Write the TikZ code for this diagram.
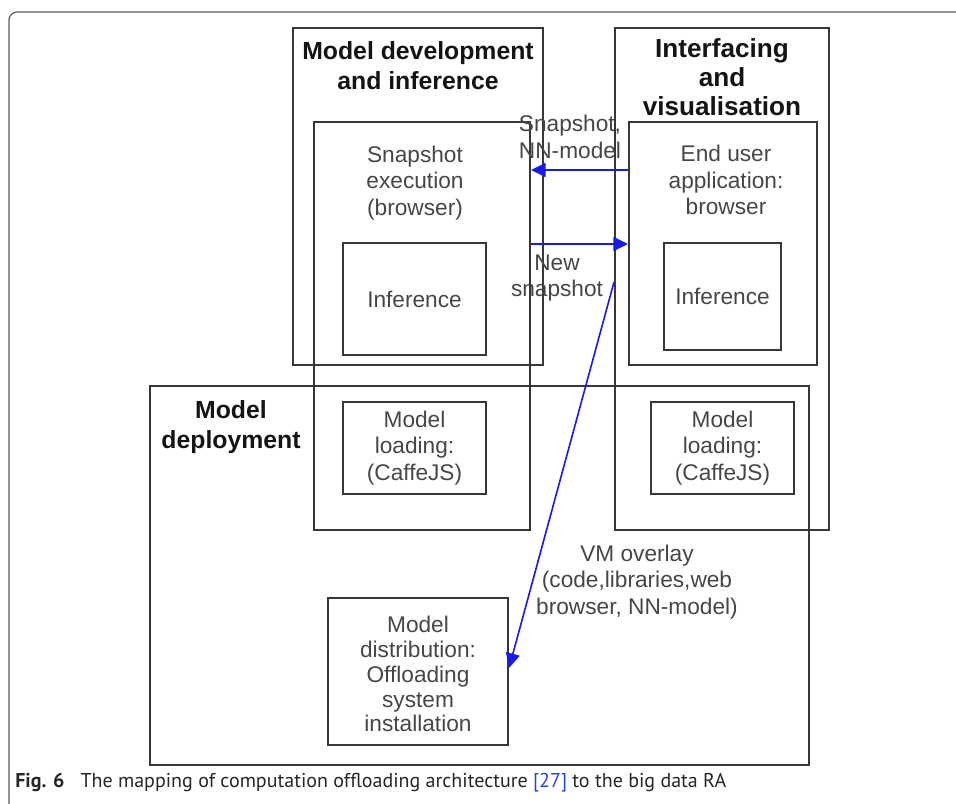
\documentclass[tikz,border=0pt]{standalone}
\usepackage{fontspec}
\setmainfont{Liberation Sans}
\newfontfamily\capfont{PT Sans}
\usetikzlibrary{arrows.meta}

\definecolor{boxline}{RGB}{55,55,55}
\definecolor{txtgray}{RGB}{70,70,70}
\definecolor{titleblack}{RGB}{20,20,20}
\definecolor{flowblue}{RGB}{25,25,235}
\definecolor{refblue}{RGB}{40,70,200}
\definecolor{framegray}{RGB}{90,90,90}

\begin{document}
\begin{tikzpicture}[x=0.75pt,y=-0.75pt,
  box/.style={draw=boxline, line width=1.5pt, rectangle, inner sep=0pt},
  bodytext/.style={font=\fontsize{17}{19.8}\selectfont, text=txtgray, align=center},
  titletext/.style={font=\fontsize{18.6}{22.5}\selectfont\bfseries, text=titleblack, align=center},
  flow/.style={draw=flowblue, line width=1.2pt, -{Triangle[length=11pt,width=10.5pt]}},
]
\useasboundingbox (0,0) rectangle (956,803);

% page frame of the figure
\draw[framegray, line width=0.9pt, rounded corners=6pt] (9,820) -- (9,12) -- (970,12);

% outer groups
\node[box, minimum width=187.5pt, minimum height=252.75pt] (mdi) at (418,196.5) {};
\node[box, minimum width=160.5pt, minimum height=376.5pt] (ifv) at (722,279) {};
\node[box, line width=1.8pt, minimum width=494.25pt, minimum height=284.25pt] (dep) at (479.5,575.5) {};

% inner components
\node[box, minimum width=162pt, minimum height=306pt] (snap) at (422,326) {};
\node[box, minimum width=141pt, minimum height=182.25pt] (eua) at (723,243.5) {};
\node[box, bodytext, minimum width=107.25pt, minimum height=84pt] (infl) at (414.5,299) {Inference};
\node[box, bodytext, minimum width=87.75pt, minimum height=80.25pt] (infr) at (722.5,296.5) {Inference};
\node[box, bodytext, minimum width=107.25pt, minimum height=69pt] (mll) at (414.5,448) {Model\\loading:\\(CaffeJS)};
\node[box, bodytext, minimum width=107.25pt, minimum height=69pt] (mlr) at (722.5,448) {Model\\loading:\\(CaffeJS)};
\node[box, minimum width=135pt, minimum height=110.25pt] (mdist) at (418,671.5) {};
\node[bodytext, font=\fontsize{17}{18.6}\selectfont] (mdisttx) at (mdist.center) [yshift=-2pt]
  {Model\\distribution:\\Offloading\\system\\installation};

% group titles and component captions
\node[titletext] (mditl) at (418,66) {Model development\\and inference};
\node[titletext, font=\fontsize{19.6}{21.6}\selectfont\bfseries] (ifvtl) at (722,77) {Interfacing\\and\\visualisation};
\node[titletext] (deptl) at (231,427) {Model\\deployment};
\node[bodytext] (snaptl) at (415,183) {Snapshot\\execution\\(browser)};
\node[bodytext] (euatl) at (726,180) {End user\\application:\\browser};

% flows
\coordinate (ya) at (0,170);
\coordinate (yb) at (0,244);
\coordinate (yc) at (0,282);
\coordinate (yd) at (0,668);
\draw[flow] (eua.west |- ya) -- (snap.east |- ya);
\draw[flow] (snap.east |- yb) -- (eua.west |- yb);
\draw[flow] (ifv.west |- yc) -- (mdist.east |- yd);

% flow labels
\node[bodytext] (lbla) at (570,137) {Snapshot,\\NN-model};
\node[bodytext] (lblb) at (557,278) {New\\snapshot};
\node[bodytext] (lblc) at (637,582) {VM overlay\\(code,libraries,web\\browser, NN-model)};

% caption
\node[anchor=base west, inner sep=0pt, font=\capfont\fontsize{15}{17}\selectfont, text=black!85] (cap) at (15,787)
  {\textbf{Fig. 6}\hspace{0.8em}The mapping of computation offloading architecture {\color{refblue}[27]} to the big data RA};
\end{tikzpicture}
\end{document}
